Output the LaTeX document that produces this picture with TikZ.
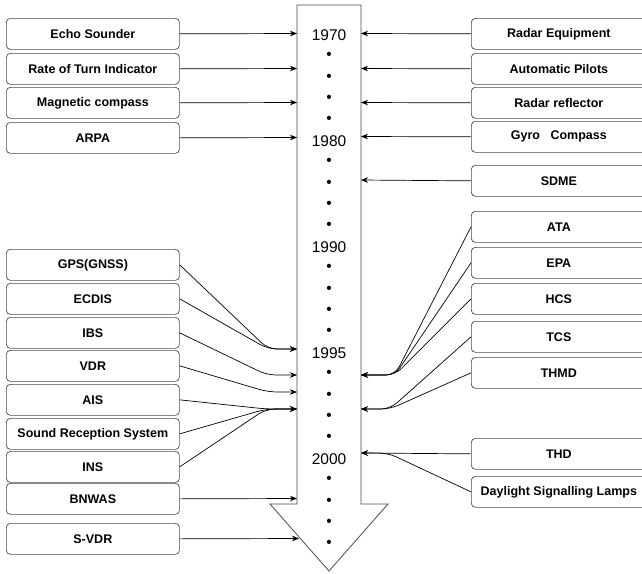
\documentclass[tikz,border=0pt]{standalone}
\usepackage{fontspec}
\setmainfont{Liberation Sans}
\usetikzlibrary{arrows.meta}
\begin{document}
\begin{tikzpicture}[x=1pt,y=-1pt,
  box/.style={draw=black!70, line width=0.7pt, rounded corners=4pt, minimum height=31pt,
    inner sep=0pt, anchor=north west, font=\bfseries\fontsize{12.5}{15}\selectfont},
  lbox/.style={box, minimum width=173pt},
  rbox/.style={box, minimum width=175pt},
  yr/.style={inner sep=0pt, font=\fontsize{15.5}{18}\selectfont},
  conn/.style={draw=black, line width=0.7pt, -{Stealth[length=7pt,width=5.5pt]}},
  bentconn/.style={conn, rounded corners=9pt},
  bigarrow/.style={draw=black!70, line width=0.8pt, fill=white, line join=miter}
]
\useasboundingbox (0,0) rectangle (642,573);

% big timeline arrow
\draw[bigarrow] (297,5) -- (361,5) -- (361,504) -- (388,504) -- (329,571) -- (270,504) -- (297,504) -- cycle;

% year column
\foreach \k/\t in {0/1970,1/•,2/•,3/•,4/•,5/1980,6/•,7/•,8/•,9/•,10/1990,11/•,12/•,13/•,14/•,15/1995,16/•,17/•,18/•,19/•,20/2000,21/•,22/•,23/•,24/•}
  \node[yr] (t\k) at (329,{35+21.2*\k}) {\t};

% arrival points on the timeline
\coordinate (aL1) at (297,33.5);
\coordinate (aL2) at (297,68.5);
\coordinate (aL3) at (297,102.5);
\coordinate (aL4) at (297,137.5);
\coordinate (aR1) at (361,33.5);
\coordinate (aR2) at (361,68.5);
\coordinate (aR3) at (361,102.5);
\coordinate (aR4) at (361,136.5);
\coordinate (aR5) at (361,180);
\coordinate (aL5) at (297,349);
\coordinate (aL6) at (297,375);
\coordinate (aL7) at (297,392);
\coordinate (aL8) at (297,409);
\coordinate (aL9) at (297,498.5);
\coordinate (aL10) at (299,538.5);
\coordinate (aR6) at (361,375);
\coordinate (aR7) at (361,409);
\coordinate (aR8) at (361,453);

% left boxes
\node[lbox] (echo) at (6,18) {Echo Sounder};
\node[lbox] (rot) at (6,53) {Rate of Turn Indicator};
\node[lbox] (mag) at (6,87) {Magnetic compass};
\node[lbox] (arpa) at (6,122) {ARPA};
\node[lbox] (gps) at (6,249) {GPS(GNSS)};
\node[lbox] (ecdis) at (6,283) {ECDIS};
\node[lbox] (ibs) at (6,317) {IBS};
\node[lbox] (vdr) at (6,350) {VDR};
\node[lbox] (ais) at (6,384) {AIS};
\node[lbox] (srs) at (6,418) {Sound Reception System};
\node[lbox] (ins) at (6,451) {INS};
\node[lbox] (bnwas) at (6,483) {BNWAS};
\node[lbox] (svdr) at (6,523) {S-VDR};

% right boxes
\node[rbox] (radar) at (471,18) {Radar Equipment};
\node[rbox] (auto) at (471,53) {Automatic Pilots};
\node[rbox] (refl) at (471,87) {Radar reflector};
\node[rbox] (gyro) at (471,121) {Gyro\ \ \ Compass};
\node[rbox] (sdme) at (471,165) {SDME};
\node[rbox] (ata) at (471,211) {ATA};
\node[rbox] (epa) at (471,247) {EPA};
\node[rbox] (hcs) at (471,283) {HCS};
\node[rbox] (tcs) at (471,321) {TCS};
\node[rbox] (thmd) at (471,357) {THMD};
\node[rbox] (thd) at (471,438) {THD};
\node[rbox] (dsl) at (471,476) {Daylight Signalling Lamps};

% straight connectors
\draw[conn] (echo.east) -- (aL1);
\draw[conn] (rot.east) -- (aL2);
\draw[conn] (mag.east) -- (aL3);
\draw[conn] (arpa.east) -- (aL4);
\draw[conn] (bnwas.east) -- (aL9);
\draw[conn] (svdr.east) -- (aL10);
\draw[conn] (radar.west) -- (aR1);
\draw[conn] (auto.west) -- (aR2);
\draw[conn] (refl.west) -- (aR3);
\draw[conn] (gyro.west) -- (aR4);
\draw[conn] (sdme.west) -- (aR5);
\draw[conn] (thd.west) -- (aR8);

% bent connectors, left
\draw[bentconn] (gps.east) -- (268,349) -- (aL5);
\draw[bentconn] (ecdis.east) -- (268,349) -- (aL5);
\draw[bentconn] (ibs.east) -- (267,375) -- (aL6);
\draw[bentconn] (vdr.east) -- (268,392) -- (aL7);
\draw[bentconn] (ais.east) -- (266,409) -- (aL8);
\draw[bentconn] (srs.east) -- (266,409) -- (aL8);
\draw[bentconn] (ins.east) -- (266,409) -- (aL8);

% bent connectors, right
\draw[bentconn] (ata.west) -- (395,375) -- (aR6);
\draw[bentconn] (epa.west) -- (395,375) -- (aR6);
\draw[bentconn] (hcs.west) -- (395,375) -- (aR6);
\draw[bentconn] (tcs.west) -- (390,409) -- (aR7);
\draw[bentconn] (thmd.west) -- (390,409) -- (aR7);
\draw[bentconn] (dsl.west) -- (388,453) -- (aR8);
\end{tikzpicture}
\end{document}
